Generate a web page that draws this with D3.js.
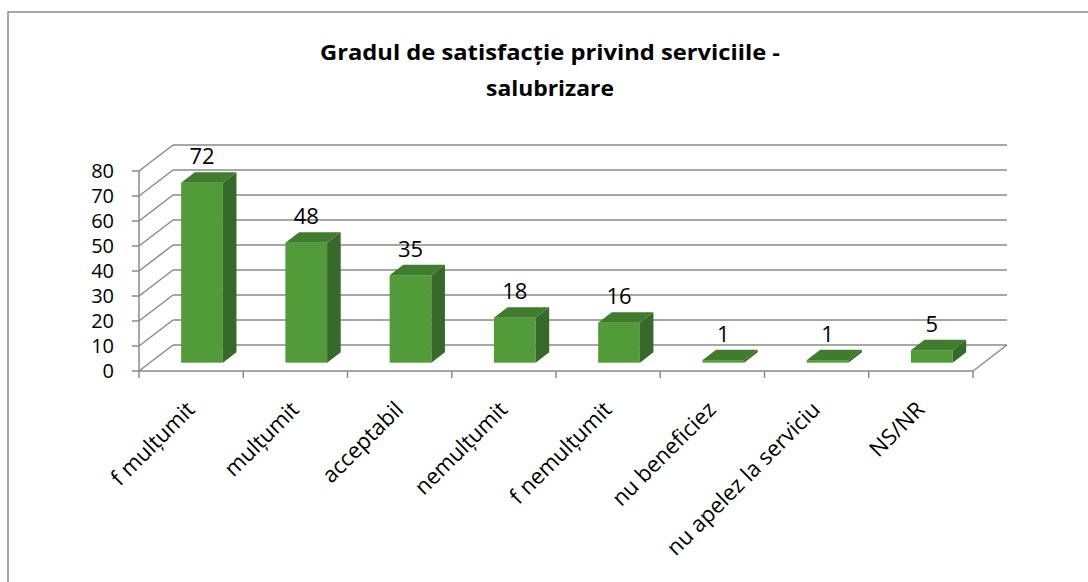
<!DOCTYPE html>
<html>
<head>
<meta charset="utf-8">
<script src="https://cdn.jsdelivr.net/npm/d3@7/dist/d3.min.js"></script>
<style>
  html, body { margin: 0; padding: 0; background: #fff; }
  svg { display: block; }
  text { font-family: "Open Sans", "Noto Sans", sans-serif; fill: #000; }
</style>
</head>
<body>
<svg id="chart" width="1088" height="582"></svg>
<script>
// data
const categories = ["f mulțumit", "mulțumit", "acceptabil", "nemulțumit", "f nemulțumit", "nu beneficiez", "nu apelez la serviciu", "NS/NR"];
const values = [72, 48, 35, 18, 16, 1, 1, 5];
const yTicks = [0, 10, 20, 30, 40, 50, 60, 70, 80];
const titleLines = ["Gradul de satisfacție privind serviciile -", "salubrizare"];
const titleWidths = [460, 128];

const svg = d3.select("#chart");

// 3d depth of the floor / walls
const DX = 34, DY = -26;
const gridColor = "#8a8a8a";

const x = d3.scaleBand().domain(categories).range([139, 973]);
const y = d3.scaleLinear().domain([0, 80]).range([371, 171]);
const y0 = y(0);

// outer frame
svg.append("rect")
   .attr("x", 8).attr("y", 12)
   .attr("width", 1200).attr("height", 700)
   .attr("fill", "none")
   .attr("stroke", gridColor)
   .attr("stroke-width", 1.5);

// title
svg.append("g").selectAll("text")
   .data(titleLines)
   .join("text")
   .attr("x", 550)
   .attr("y", (d, i) => 60 + i * 36)
   .attr("text-anchor", "middle")
   .attr("font-size", 21)
   .attr("font-weight", "bold")
   .attr("textLength", (d, i) => titleWidths[i])
   .attr("lengthAdjust", "spacingAndGlyphs")
   .text(d => d);

const grid = svg.append("g")
   .attr("stroke", gridColor)
   .attr("stroke-width", 1.5)
   .attr("fill", "none");

// back wall lines + left wall diagonals
yTicks.forEach(v => {
  grid.append("line")
      .attr("x1", x.range()[0] + DX).attr("x2", x.range()[1] + DX)
      .attr("y1", y(v) + DY).attr("y2", y(v) + DY);
  grid.append("line")
      .attr("x1", x.range()[0]).attr("x2", x.range()[0] + DX)
      .attr("y1", y(v)).attr("y2", y(v) + DY);
  grid.append("line")
      .attr("x1", x.range()[0] - 7).attr("x2", x.range()[0])
      .attr("y1", y(v)).attr("y2", y(v));
});

// front left axis line
grid.append("line")
    .attr("x1", x.range()[0]).attr("x2", x.range()[0])
    .attr("y1", y(0)).attr("y2", y(80));

// floor front + right edge
grid.append("line")
    .attr("x1", x.range()[0]).attr("x2", x.range()[1])
    .attr("y1", y0).attr("y2", y0);
grid.append("line")
    .attr("x1", x.range()[1]).attr("x2", x.range()[1] + DX)
    .attr("y1", y0).attr("y2", y0 + DY);

// category ticks
const bounds = categories.map(c => x(c)).concat([x.range()[1]]);
grid.selectAll(".ctick")
    .data(bounds)
    .join("line")
    .attr("class", "ctick")
    .attr("x1", d => d).attr("x2", d => d)
    .attr("y1", y0).attr("y2", y0 + 7);

// y tick labels
svg.append("g").selectAll("text")
   .data(yTicks)
   .join("text")
   .attr("x", 114)
   .attr("y", d => y(d))
   .attr("dy", "0.36em")
   .attr("text-anchor", "end")
   .attr("font-size", 20)
   .text(d => d);

// bars
const f0 = 0.32, fd = 0.4;
const bw = x.bandwidth() * 0.4;
const ddx = DX * fd, ddy = DY * fd;

const bars = svg.append("g").selectAll("g")
   .data(values)
   .join("g");

bars.each(function(v, i) {
  const g = d3.select(this);
  const cx = x(categories[i]) + x.bandwidth() / 2 + f0 * DX;
  const base = y0 + f0 * DY;
  const top = base - (y0 - y(v));
  const l = cx - bw / 2, r = cx + bw / 2;

  g.append("rect")
   .attr("x", l).attr("y", top)
   .attr("width", bw).attr("height", base - top)
   .attr("fill", "#529b39");
  g.append("path")
   .attr("d", `M${r},${top}L${r + ddx},${top + ddy}L${r + ddx},${base + ddy}L${r},${base}Z`)
   .attr("fill", "#36692a");
  g.append("path")
   .attr("d", `M${l},${top}L${r},${top}L${r + ddx},${top + ddy}L${l + ddx},${top + ddy}Z`)
   .attr("fill", "#3f7c2d");

  g.append("text")
   .attr("x", cx)
   .attr("y", top + ddy - 8)
   .attr("text-anchor", "middle")
   .attr("font-size", 22)
   .text(v);
});

// category labels
svg.append("g").selectAll("text")
   .data(categories)
   .join("text")
   .attr("text-anchor", "end")
   .attr("font-size", 22)
   .attr("transform", d => `translate(${x(d) + x.bandwidth() / 2 + 5},${411}) rotate(-45)`)
   .text(d => d);
</script>
</body>
</html>
